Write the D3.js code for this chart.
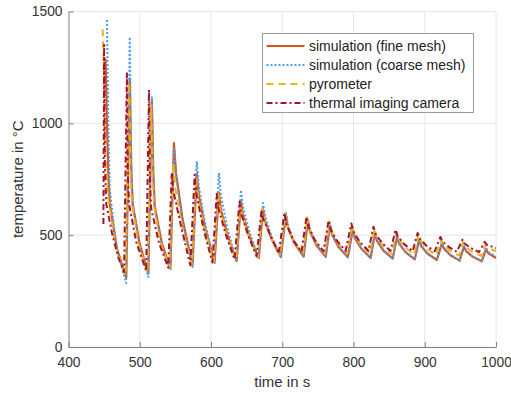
<!DOCTYPE html>
<html>
<head>
<meta charset="utf-8">
<script src="https://cdn.jsdelivr.net/npm/d3@7"></script>
<style>
  body { margin: 0; background: #fff; }
  svg { font-family: "Liberation Sans", Arial, sans-serif; }
  .axis path, .axis line { stroke: #808080; }
  .axis text { fill: #333; font-size: 13.8px; }
  .grid line { stroke: #e6e6e6; stroke-width: 1; }
  .axisLabel { fill: #333; font-size: 15px; }
  .legend text { fill: #222; font-size: 14px; }
</style>
</head>
<body>
<div id="chart"></div>
<script>
// tick labels
const xTicks = [400, 500, 600, 700, 800, 900, 1000];
const yTicks = [0, 500, 1000, 1500];

const seriesNames = [
  "simulation (fine mesh)",
  "simulation (coarse mesh)",
  "pyrometer",
  "thermal imaging camera",
];

// [time in s, temperature in °C]
const fineMesh = [
  [452,1290],[454,1000],[456,760],[458,640],[468,440],[481,310],
  [486,1200],[488,800],[490,640],[500,460],[512,328],
  [517,1105],[519,780],[521,630],[531,465],[543,350],
  [548,912],[551,775],[560,573],[574,365],
  [580,775],[583,676],[592,529],[605,378],
  [611,690],[614,614],[623,501],[636,385],
  [642,650],[645,587],[654,494],[667,398],
  [673,615],[676,562],[685,483],[698,402],
  [705,590],[708,534],[717,464],[730,404],
  [736,565],[739,516],[748,455],[761,403],
  [767,545],[770,502],[779,447],[792,401],
  [799,525],[802,487],[811,439],[824,398],
  [830,508],[833,474],[842,431],[855,395],
  [861,492],[864,462],[873,424],[886,392],
  [892,478],[895,451],[904,417],[917,389],
  [924,462],[927,439],[936,410],[949,386],
  [955,448],[958,429],[967,404],[980,383],
  [986,438],[989,420],[1000,398],
];

const coarseMesh = [
  [454,1462],[456,980],[458,700],[468,430],[481,286],
  [486,1386],[488,860],[490,640],[500,450],[512,313],
  [517,1117],[519,780],[521,620],[531,450],[543,344],
  [548,894],[551,760],[560,562],[574,358],
  [580,831],[583,717],[592,548],[605,375],
  [611,778],[614,678],[623,531],[636,380],
  [642,702],[645,626],[654,514],[667,398],
  [673,644],[676,584],[685,494],[698,403],
  [705,605],[708,545],[717,469],[730,405],
  [736,575],[739,524],[748,459],[761,404],
  [767,550],[770,506],[779,449],[792,402],
  [799,530],[802,491],[811,441],[824,399],
  [830,512],[833,477],[842,433],[855,396],
  [861,496],[864,465],[873,426],[886,393],
  [892,482],[895,454],[904,419],[917,390],
  [924,468],[927,444],[936,413],[949,387],
  [955,455],[958,434],[967,407],[980,384],
  [986,445],[989,425],[1000,405],
];

const pyrometer = [
  [448,1420],[450,1150],[452,850],[455,680],[466,450],[480,320],
  [485,1180],[487,780],[489,640],[498,465],[511,335],
  [516,1080],[518,760],[520,630],[529,468],[542,355],
  [547,822],[550,708],[559,541],[573,368],
  [579,760],[582,665],[591,524],[604,380],
  [610,690],[613,615],[622,504],[635,390],
  [641,645],[644,584],[653,494],[666,402],
  [672,620],[675,568],[684,490],[697,410],
  [704,600],[707,545],[716,474],[729,415],
  [735,580],[738,531],[747,469],[760,417],
  [766,562],[769,519],[778,464],[791,418],
  [798,546],[801,507],[810,458],[823,417],
  [829,530],[832,496],[841,452],[854,415],
  [860,515],[863,484],[872,446],[885,413],
  [891,502],[894,475],[903,440],[916,411],
  [923,480],[926,459],[935,432],[948,409],
  [954,468],[957,450],[966,427],[979,407],
  [985,458],[988,445],[1000,428],
];

const thermalCamera = [
  [449,550],[450,1350],[451,820],[453,640],[461,510],[470,400],[478,335],
  [482,1230],[483,800],[485,640],[495,470],[509,340],
  [513,1150],[514,780],[516,620],[527,465],[540,355],
  [545,780],[547,700],[558,540],[571,365],
  [577,770],[579,690],[590,520],[602,378],
  [608,685],[610,625],[621,500],[633,392],
  [640,650],[642,600],[652,500],[664,405],
  [671,615],[673,575],[684,495],[695,418],
  [703,600],[706,548],[715,481],[727,425],
  [734,582],[737,536],[746,477],[758,428],
  [765,566],[768,525],[777,474],[789,430],
  [797,552],[800,515],[809,469],[821,430],
  [828,538],[831,506],[840,465],[852,430],
  [859,525],[862,496],[871,460],[883,429],
  [890,510],[893,485],[902,454],[914,428],
  [922,492],[925,472],[934,447],[945,426],
  [953,480],[956,463],[965,442],[976,424],
  [984,470],[987,458],[1000,442],
];

const svgWidth = 511, svgHeight = 393;
const margin = { top: 11.5, left: 68.5, right: 15, bottom: 46 },
  width = svgWidth - margin.left - margin.right,
  height = svgHeight - margin.top - margin.bottom;

const svg = d3
  .select("#chart")
  .append("svg")
  .attr("width", svgWidth)
  .attr("height", svgHeight)
  .append("g")
  .attr("transform", "translate(" + margin.left + "," + margin.top + ")");

const x = d3.scaleLinear().domain([400, 1000]).range([0, width]);
const y = d3.scaleLinear().domain([0, 1500]).range([height, 0]);

// grid
svg.append("g").attr("class", "grid")
  .selectAll("line").data(xTicks.slice(1)).enter().append("line")
  .attr("x1", (d) => x(d)).attr("x2", (d) => x(d))
  .attr("y1", 0).attr("y2", height);
svg.append("g").attr("class", "grid")
  .selectAll("line").data(yTicks.slice(1)).enter().append("line")
  .attr("x1", 0).attr("x2", width)
  .attr("y1", (d) => y(d)).attr("y2", (d) => y(d));

// axes, ticks pointing inwards
svg.append("g")
  .attr("class", "axis")
  .attr("transform", "translate(0," + height + ")")
  .call(d3.axisBottom(x).tickValues(xTicks).tickFormat(d3.format("d"))
    .tickSizeInner(-5).tickSizeOuter(0).tickPadding(10));
svg.append("g")
  .attr("class", "axis")
  .call(d3.axisLeft(y).tickValues(yTicks).tickFormat(d3.format("d"))
    .tickSizeInner(-5).tickSizeOuter(0).tickPadding(6));

// lines
const series = [
  { name: seriesNames[0], data: fineMesh, color: "#D95319", dash: null, w: 2.2 },
  { name: seriesNames[1], data: coarseMesh, color: "#4D9FEA", dash: "2,2", w: 2 },
  { name: seriesNames[2], data: pyrometer, color: "#EDB120", dash: "7,5", w: 2 },
  { name: seriesNames[3], data: thermalCamera, color: "#A2142F", dash: "6,3,2,3", w: 2 },
];

const line = d3.line().x((d) => x(d[0])).y((d) => y(d[1]));

svg.append("g")
  .selectAll("path")
  .data(series)
  .enter()
  .append("path")
  .attr("fill", "none")
  .attr("stroke", (d) => d.color)
  .attr("stroke-width", (d) => d.w)
  .attr("stroke-dasharray", (d) => d.dash)
  .attr("stroke-linejoin", "round")
  .attr("d", (d) => line(d.data));

// axis labels
svg.append("text")
  .attr("class", "axisLabel")
  .attr("x", width / 2)
  .attr("y", height + 40)
  .style("text-anchor", "middle")
  .text("time in s");

svg.append("text")
  .attr("class", "axisLabel")
  .attr("transform", "rotate(-90)")
  .attr("x", -height / 2)
  .attr("y", 23 - margin.left)
  .style("text-anchor", "middle")
  .text("temperature in °C");

// legend
const legend = svg.append("g")
  .attr("class", "legend")
  .attr("transform", "translate(" + (262.5 - margin.left) + "," + (33.5 - margin.top) + ")");
legend.append("rect")
  .attr("width", 211)
  .attr("height", 79)
  .attr("fill", "#fff")
  .attr("stroke", "#999")
  .attr("stroke-width", 1);
const rows = legend.selectAll("g.row")
  .data(series)
  .enter()
  .append("g")
  .attr("class", "row")
  .attr("transform", (d, i) => "translate(0," + (12.5 + i * 19) + ")");
rows.append("line")
  .attr("x1", 4).attr("x2", 42)
  .attr("stroke", (d) => d.color)
  .attr("stroke-width", (d) => d.w)
  .attr("stroke-dasharray", (d) => d.dash);
rows.append("text")
  .attr("x", 46.5)
  .attr("dy", "0.35em")
  .text((d) => d.name);
</script>
</body>
</html>
